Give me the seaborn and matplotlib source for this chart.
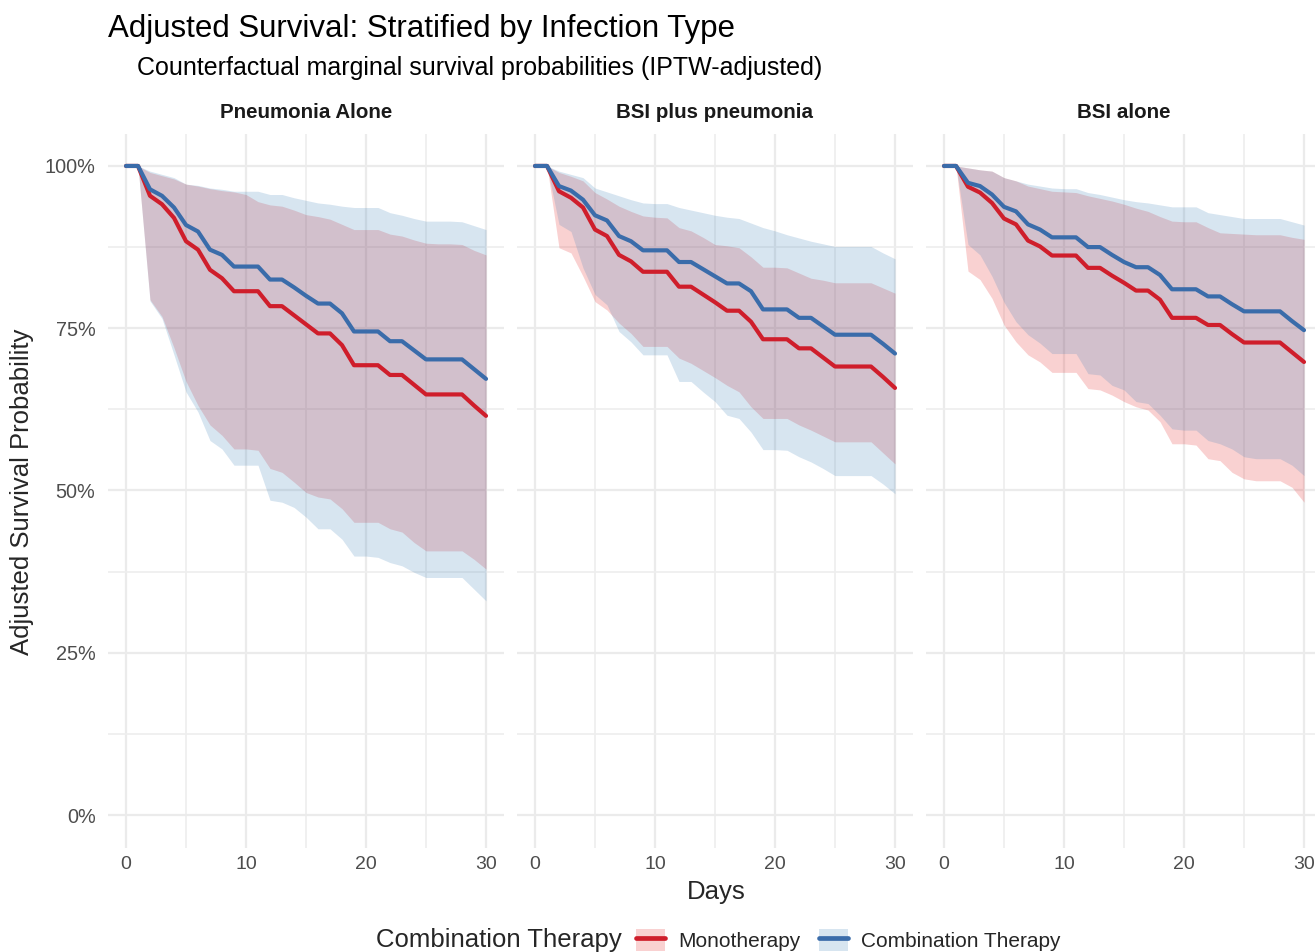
import numpy as np
import pandas as pd
import matplotlib
matplotlib.use('Agg')
import matplotlib.pyplot as plt
import seaborn as sns
from matplotlib.patches import Patch
from matplotlib.lines import Line2D
from matplotlib.ticker import FixedLocator, FuncFormatter

days = list(range(31))
panels = ['Pneumonia Alone', 'BSI plus pneumonia', 'BSI alone']
groups = ['Monotherapy', 'Combination Therapy']

# survival (%), one value per day
pneu_mono = [100, 100, 95.4, 94.1, 92.0, 88.4, 87.1, 84.0, 82.7, 80.7, 80.7, 80.7, 78.4, 78.4, 77.0, 75.6,
             74.2, 74.2, 72.4, 69.3, 69.3, 69.3, 67.8, 67.8, 66.3, 64.8, 64.8, 64.8, 64.8, 63.1, 61.5]
pneu_mono_lo = [100, 100, 79.4, 76.8, 72.0, 66.8, 63.1, 60.1, 58.5, 56.4, 56.4, 56.2, 53.4, 52.8, 51.3, 49.7,
                49.0, 48.7, 47.2, 45.1, 45.1, 45.1, 44.1, 43.6, 42.0, 40.7, 40.7, 40.7, 40.7, 39.4, 37.9]
pneu_mono_hi = [100, 100, 99.0, 98.5, 98.0, 97.2, 96.9, 96.5, 96.2, 96.0, 95.6, 94.5, 94.0, 93.8, 93.2, 92.5,
                92.2, 91.8, 91.0, 90.2, 90.2, 90.2, 89.5, 89.2, 88.6, 88.1, 88.0, 88.0, 87.9, 87.0, 86.3]
pneu_comb = [100, 100, 96.4, 95.4, 93.6, 90.9, 89.9, 87.1, 86.3, 84.5, 84.5, 84.5, 82.5, 82.5, 81.3, 80.0,
             78.8, 78.8, 77.3, 74.5, 74.5, 74.5, 73.0, 73.0, 71.6, 70.2, 70.2, 70.2, 70.2, 68.7, 67.2]
pneu_comb_lo = [100, 100, 79.2, 76.5, 70.9, 65.2, 62.1, 57.7, 56.4, 53.9, 53.9, 53.9, 48.5, 48.2, 47.4, 45.9,
                44.1, 44.1, 42.5, 39.9, 39.9, 39.7, 38.9, 38.4, 37.4, 36.6, 36.6, 36.6, 36.6, 34.8, 33.0]
pneu_comb_hi = [100, 100, 99.2, 98.7, 98.2, 97.2, 97.0, 96.6, 96.4, 96.1, 96.1, 96.1, 95.6, 95.6, 95.1, 94.7,
                94.3, 94.1, 93.8, 93.6, 93.6, 93.6, 92.8, 92.4, 91.9, 91.5, 91.5, 91.5, 91.4, 90.8, 90.2]

both_mono = [100, 100, 96.1, 95.1, 93.6, 90.2, 89.2, 86.3, 85.3, 83.7, 83.7, 83.7, 81.4, 81.4, 80.2, 79.0,
             77.7, 77.7, 76.0, 73.3, 73.3, 73.3, 71.9, 71.9, 70.5, 69.1, 69.1, 69.1, 69.1, 67.5, 65.8]
both_mono_lo = [100, 100, 87.4, 86.6, 83.0, 79.1, 77.8, 75.8, 74.2, 72.2, 72.2, 72.2, 70.4, 69.6, 68.5, 67.4,
                66.2, 65.2, 62.9, 61.1, 61.1, 61.1, 60.1, 59.3, 58.4, 57.5, 57.5, 57.5, 57.5, 55.8, 54.1]
both_mono_hi = [100, 100, 99.0, 98.4, 97.7, 95.9, 94.9, 93.8, 93.0, 92.3, 92.1, 92.0, 90.5, 90.0, 89.0, 87.9,
                87.7, 87.4, 86.0, 84.4, 84.4, 84.3, 83.5, 82.7, 82.4, 82.0, 82.0, 82.0, 82.0, 81.2, 80.4]
both_comb = [100, 100, 96.9, 96.2, 94.8, 92.4, 91.6, 89.2, 88.4, 87.0, 87.0, 87.0, 85.2, 85.2, 84.1, 83.0,
             81.9, 81.9, 80.7, 77.9, 77.9, 77.9, 76.6, 76.6, 75.3, 74.0, 74.0, 74.0, 74.0, 72.6, 71.1]
both_comb_lo = [100, 100, 91.0, 89.9, 84.3, 80.2, 78.6, 74.5, 72.9, 70.9, 70.9, 70.9, 66.8, 66.8, 65.2, 63.7,
                61.6, 61.1, 59.0, 56.3, 56.3, 56.2, 55.2, 54.4, 53.4, 52.3, 52.3, 52.3, 52.3, 51.0, 49.5]
both_comb_hi = [100, 100, 99.2, 98.7, 98.2, 96.6, 96.0, 95.4, 94.8, 94.3, 94.2, 94.2, 93.6, 93.2, 92.8, 92.4,
                92.1, 91.9, 91.2, 90.5, 90.0, 89.4, 88.9, 88.4, 88.0, 87.6, 87.6, 87.6, 87.6, 86.6, 85.7]

bsi_mono = [100, 100, 96.8, 95.9, 94.3, 91.9, 91.0, 88.5, 87.6, 86.2, 86.2, 86.2, 84.3, 84.3, 83.1, 82.0,
            80.8, 80.8, 79.4, 76.6, 76.6, 76.6, 75.5, 75.5, 74.1, 72.8, 72.8, 72.8, 72.8, 71.3, 69.8]
bsi_mono_lo = [100, 100, 83.8, 82.5, 79.6, 75.5, 72.9, 70.9, 69.8, 68.2, 68.2, 68.2, 65.7, 65.5, 64.7, 63.7,
               62.9, 62.4, 60.6, 57.2, 57.2, 57.0, 54.9, 54.6, 52.8, 51.8, 51.5, 51.5, 51.5, 50.5, 48.2]
bsi_mono_hi = [100, 100, 99.7, 99.4, 99.2, 98.2, 97.7, 96.9, 96.5, 96.1, 96.0, 95.9, 95.4, 95.0, 94.6, 94.1,
               93.5, 93.0, 92.2, 91.5, 91.4, 91.4, 90.5, 89.7, 89.6, 89.5, 89.4, 89.4, 89.4, 89.0, 88.7]
bsi_comb = [100, 100, 97.4, 96.9, 95.6, 93.7, 93.0, 91.0, 90.2, 89.0, 89.0, 89.0, 87.5, 87.5, 86.3, 85.2,
            84.4, 84.4, 83.2, 81.0, 81.0, 81.0, 79.9, 79.9, 78.7, 77.6, 77.6, 77.6, 77.6, 76.1, 74.7]
bsi_comb_lo = [100, 100, 87.9, 86.3, 83.0, 79.0, 76.0, 74.0, 72.7, 71.1, 71.1, 71.1, 68.0, 67.8, 66.2, 65.5,
               63.7, 63.4, 61.6, 59.5, 59.3, 59.3, 57.7, 57.2, 56.4, 55.2, 54.9, 54.9, 54.9, 53.9, 52.3]
bsi_comb_hi = [100, 100, 99.7, 99.4, 99.2, 98.2, 97.7, 97.2, 96.9, 96.6, 96.5, 96.5, 95.9, 95.6, 95.2, 94.8,
               94.5, 94.3, 94.0, 93.7, 93.7, 93.7, 92.8, 92.5, 92.2, 91.9, 91.9, 91.9, 91.9, 91.4, 90.9]

series = {
    ('Pneumonia Alone', 'Monotherapy'): (pneu_mono, pneu_mono_lo, pneu_mono_hi),
    ('Pneumonia Alone', 'Combination Therapy'): (pneu_comb, pneu_comb_lo, pneu_comb_hi),
    ('BSI plus pneumonia', 'Monotherapy'): (both_mono, both_mono_lo, both_mono_hi),
    ('BSI plus pneumonia', 'Combination Therapy'): (both_comb, both_comb_lo, both_comb_hi),
    ('BSI alone', 'Monotherapy'): (bsi_mono, bsi_mono_lo, bsi_mono_hi),
    ('BSI alone', 'Combination Therapy'): (bsi_comb, bsi_comb_lo, bsi_comb_hi),
}

rows = []
for (inf, grp), (s, lo, hi) in series.items():
    for d, a, b, c in zip(days, s, lo, hi):
        rows.append({'infection': inf, 'group': grp, 'day': d,
                     'surv': a / 100, 'lo': b / 100, 'hi': c / 100})
df = pd.DataFrame(rows)

line_cols = {'Monotherapy': '#CF1E2B', 'Combination Therapy': '#3A6CAA'}
fill_cols = {'Monotherapy': '#E41A1C', 'Combination Therapy': '#377EB8'}

sns.set_theme(style='white')
font = ['Liberation Sans', 'DejaVu Sans']
plt.rcParams['font.family'] = font

W, H = 1315, 952
g = sns.FacetGrid(df, col='infection', col_order=panels, height=6, aspect=0.6, sharey=True)


def draw_bands(data, **kws):
    ax = plt.gca()
    for grp in groups:
        sub = data[data['group'] == grp]
        ax.fill_between(sub['day'], sub['lo'], sub['hi'], color=fill_cols[grp],
                        alpha=0.2, lw=0, zorder=2)


g.map_dataframe(draw_bands)
g.map_dataframe(sns.lineplot, x='day', y='surv', hue='group', hue_order=groups,
                palette=line_cols, linewidth=3.0, legend=False, errorbar=None, zorder=3)

fig = g.figure
fig.set_size_inches(W / 100, H / 100)

# panel geometry in pixels (left edges), top/bottom shared
lefts = [108, 517, 926]
pw = 396
top, bot = 133.5, 847.5
for i, ax in enumerate(g.axes.flat):
    ax.set_position([lefts[i] / W, 1 - bot / H, pw / W, (bot - top) / H])
    ax.set_xlim(-1.5, 31.5)
    ax.set_ylim(-0.05, 1.05)
    ax.xaxis.set_major_locator(FixedLocator([0, 10, 20, 30]))
    ax.xaxis.set_minor_locator(FixedLocator([5, 15, 25]))
    ax.yaxis.set_major_locator(FixedLocator([0, 0.25, 0.5, 0.75, 1.0]))
    ax.yaxis.set_minor_locator(FixedLocator([0.125, 0.375, 0.625, 0.875]))
    ax.yaxis.set_major_formatter(FuncFormatter(lambda v, p: f'{v * 100:.0f}%'))
    ax.grid(True, which='major', color='#EBEBEB', lw=1.6, zorder=0)
    ax.grid(True, which='minor', color='#EEEEEE', lw=1.2, zorder=0)
    ax.set_axisbelow(True)
    for sp in ax.spines.values():
        sp.set_visible(False)
    ax.tick_params(which='both', length=0)
    ax.tick_params(axis='x', labelsize=14, labelcolor='#4D4D4D', pad=6)
    ax.tick_params(axis='y', labelsize=14.3, labelcolor='#4D4D4D', pad=9)
    ax.set_xlabel('')
    ax.set_ylabel('')
    ax.set_title('')
    ax.text(0.5, 1 - (113 - top) / (bot - top), panels[i], transform=ax.transAxes,
            ha='center', va='center', fontsize=14.8, fontweight='bold', color='#1A1A1A')
    if i > 0:
        ax.tick_params(axis='y', labelleft=False)

fig.text(108 / W, 1 - 37 / H, 'Adjusted Survival: Stratified by Infection Type',
         fontsize=22.5, ha='left', va='baseline', color='black')
fig.text(137 / W, 1 - 75 / H, 'Counterfactual marginal survival probabilities (IPTW-adjusted)',
         fontsize=18, ha='left', va='baseline', color='black')
fig.text(716 / W, 1 - 892 / H, 'Days', fontsize=18.5, ha='center', va='center')
fig.text(22 / W, 1 - 492 / H, 'Adjusted Survival Probability', fontsize=18.5,
         ha='center', va='center', rotation=90)

# legend at the bottom
fig.text(376 / W, 1 - 940 / H, 'Combination Therapy', fontsize=18.5, ha='left', va='center')
handles = [(Patch(facecolor=fill_cols[gname], alpha=0.2, lw=0),
            Line2D([], [], color=line_cols[gname], lw=3.4)) for gname in groups]
fig.legend(handles, groups, loc='center left', bbox_to_anchor=(636 / W, 1 - 940 / H),
           ncol=2, frameon=False, fontsize=15, handlelength=1.4, handleheight=1.3,
           handletextpad=0.62, columnspacing=0.9, borderpad=0, borderaxespad=0)

fig.savefig('out.png', dpi=100)
